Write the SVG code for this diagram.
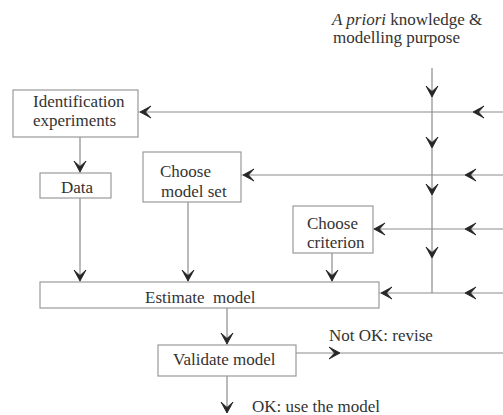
<svg xmlns="http://www.w3.org/2000/svg" xmlns:xlink="http://www.w3.org/1999/xlink" width="503" height="415" viewBox="0 0 503 415">
<style>
text{font-family:'Liberation Serif',serif;font-size:17px;fill:#333}
.box{fill:#fff;stroke:#9a9a9a;stroke-width:1.2}
.ln{stroke:#8c8c8c;stroke-width:1.2;fill:none}
.ah{fill:#262626;stroke:#262626;stroke-width:0.9;stroke-linejoin:round}
</style>
<defs>
<path id="ah" d="M-11,-6 L0,0 L-11,6 L-5.5,0 Z"/>
</defs>
<rect width="503" height="415" fill="#fff"/>
<g id="connectors">
<line class="ln" x1="432" y1="68" x2="432" y2="293"/>
<line class="ln" x1="138" y1="112" x2="503" y2="112"/>
<line class="ln" x1="241" y1="175" x2="503" y2="175"/>
<line class="ln" x1="373" y1="229" x2="503" y2="229"/>
<line class="ln" x1="379" y1="293" x2="503" y2="293"/>
<line class="ln" x1="80" y1="137" x2="80" y2="173"/>
<line class="ln" x1="80" y1="198" x2="80" y2="282"/>
<line class="ln" x1="188" y1="202" x2="188" y2="282"/>
<line class="ln" x1="332" y1="253" x2="332" y2="282"/>
<line class="ln" x1="227" y1="308" x2="227" y2="345"/>
<line class="ln" x1="296" y1="353" x2="503" y2="353"/>
<line class="ln" x1="227" y1="376" x2="227" y2="413"/>
<g class="ah">
<use xlink:href="#ah" transform="translate(432,97) rotate(90)"/>
<use xlink:href="#ah" transform="translate(432,148) rotate(90)"/>
<use xlink:href="#ah" transform="translate(432,195) rotate(90)"/>
<use xlink:href="#ah" transform="translate(432,258) rotate(90)"/>
<use xlink:href="#ah" transform="translate(140,112) rotate(180)"/>
<use xlink:href="#ah" transform="translate(473,112) rotate(180)"/>
<use xlink:href="#ah" transform="translate(243,175) rotate(180)"/>
<use xlink:href="#ah" transform="translate(465,175) rotate(180)"/>
<use xlink:href="#ah" transform="translate(374,229) rotate(180)"/>
<use xlink:href="#ah" transform="translate(465,229) rotate(180)"/>
<use xlink:href="#ah" transform="translate(381,293) rotate(180)"/>
<use xlink:href="#ah" transform="translate(465,293) rotate(180)"/>
<use xlink:href="#ah" transform="translate(80,172) rotate(90)"/>
<use xlink:href="#ah" transform="translate(80,281) rotate(90)"/>
<use xlink:href="#ah" transform="translate(188,281) rotate(90)"/>
<use xlink:href="#ah" transform="translate(332,281) rotate(90)"/>
<use xlink:href="#ah" transform="translate(227,344) rotate(90)"/>
<use xlink:href="#ah" transform="translate(340,353)"/>
<use xlink:href="#ah" transform="translate(227,413) rotate(90)"/>
</g>
</g>
<g id="input">
<text x="332" y="25"><tspan font-style="italic">A priori</tspan> knowledge &amp;</text>
<text x="333" y="43">modelling purpose</text>
</g>
<g id="identification">
<rect class="box" x="13" y="90" width="125" height="47"/>
<text x="33" y="107">Identification</text>
<text x="33" y="126">experiments</text>
</g>
<g id="data">
<rect class="box" x="40" y="173" width="71" height="25"/>
<text x="61" y="193">Data</text>
</g>
<g id="modelset">
<rect class="box" x="143" y="152" width="98" height="50"/>
<text x="160" y="177">Choose</text>
<text x="161" y="197">model set</text>
</g>
<g id="criterion">
<rect class="box" x="293" y="206" width="80" height="47"/>
<text x="307" y="229">Choose</text>
<text x="307" y="248">criterion</text>
</g>
<g id="estimate">
<rect class="box" x="40" y="282" width="339" height="26"/>
<text x="145" y="303" xml:space="preserve">Estimate  model</text>
</g>
<g id="validate">
<rect class="box" x="158" y="345" width="138" height="31"/>
<text x="173" y="365">Validate model</text>
</g>
<g id="labels">
<text x="329" y="341">Not OK: revise</text>
<text x="252" y="412">OK: use the model</text>
</g>
</svg>
